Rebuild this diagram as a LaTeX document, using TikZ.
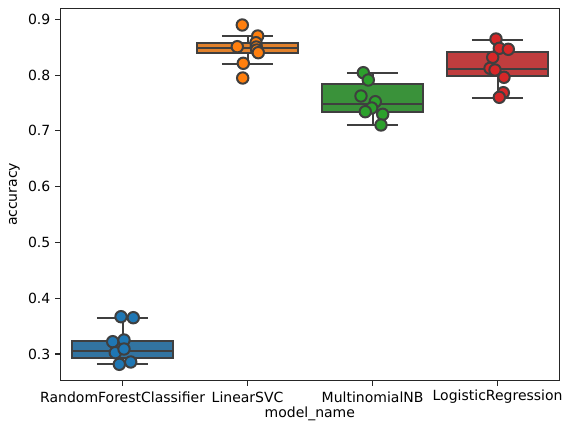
\documentclass[tikz,border=0pt]{standalone}
\usepackage{fontspec}
\setmainfont{DejaVu Sans}
\definecolor{edge}{HTML}{3F3F3F}
\definecolor{bA}{HTML}{3274A1}\definecolor{pA}{HTML}{1F77B4}
\definecolor{bB}{HTML}{E1812C}\definecolor{pB}{HTML}{FF7F0E}
\definecolor{bC}{HTML}{3A923A}\definecolor{pC}{HTML}{2CA02C}
\definecolor{bD}{HTML}{C03D3E}\definecolor{pD}{HTML}{D62728}
\begin{document}
\begin{tikzpicture}[x=1pt,y=1pt,
  lbl/.style={font=\fontsize{14}{16}\selectfont, inner sep=0pt, text=black},
  bxline/.style={draw=edge, line width=2pt},
  dot/.style={draw=edge, line width=2pt}]
\useasboundingbox (0,0) rectangle (564,424);
% boxplot macro: center, Q1, median, Q3, lowwhisk, highwhisk, fill
\newcommand{\mybox}[7]{%
  \draw[bxline] (#1,#5) -- (#1,#2) (#1,#4) -- (#1,#6);
  \draw[bxline] (#1-25.8,#5) -- (#1+25.8,#5) (#1-25.8,#6) -- (#1+25.8,#6);
  \filldraw[bxline, fill=#7] (#1-50.5,#2) rectangle (#1+50.5,#4);
  \draw[bxline] (#1-50.5,#3) -- (#1+50.5,#3);}
\newcommand{\pts}[2]{\foreach \p in {#2} {\filldraw[dot, fill=#1] \p circle (5.7);}}
% axes frame
\draw[black!85, line width=1.1pt] (60.3,43.5) rectangle (559.3,415.7);
% y ticks
\foreach \v/\yy in {0.3/70, 0.4/125.78, 0.5/181.56, 0.6/237.34, 0.7/293.12, 0.8/348.9, 0.9/404.68} {
  \draw[black!85, line width=1.1pt] (60.3,\yy) -- (55.3,\yy);
  \node[lbl, anchor=east] (yt\v) at (50.5,\yy) {\v};
}
% x ticks
\foreach \xx in {122.6,247.6,372.6,497.6} {\draw[black!85, line width=1.1pt] (\xx,43.5) -- (\xx,38.5);}
\node[lbl] (xa) at (122.6,27) {RandomForestClassifier};
\node[lbl] (xb) at (247.6,27) {LinearSVC};
\node[lbl] (xc) at (372.6,27) {MultinomialNB};
\node[lbl] (xd) at (497.6,27) {LogisticRegression};
\node[lbl] (xlab) at (309.8,10) {model\_name};
\node[lbl, rotate=90] (ylab) at (14.5,229.6) {accuracy};
% boxes
\mybox{122.6}{65.7}{73.3}{83}{60}{106.3}{bA}
\mybox{247.6}{371.3}{375.8}{380.5}{360}{388}{bB}
\mybox{372.6}{311.7}{319.7}{340}{298.7}{350.7}{bC}
\mybox{497.6}{348}{354.7}{372.3}{326.3}{384}{bD}
% points
\pts{pA}{(121,107.3),(133.3,106.3),(112.7,82.3),(124,84),(115.3,71.3),(124,75),(119.3,59.7),(130.7,62)}
\pts{pB}{(242.3,399),(257.7,388),(237.3,377.3),(256,381.3),(256.3,377),(256.7,374),(258.3,371.3),(243.3,360.7),(242.7,346)}
\pts{pC}{(363.3,351.3),(368.3,344),(361,328),(375.3,322.3),(371.7,316),(365.3,312.3),(382.7,309.7),(381,299)}
\pts{pD}{(496,385),(499.3,375.7),(508.3,374.7),(492.7,366.7),(490,355.7),(495,354),(504,346.7),(503.3,331.3),(499.3,326.7)}
\end{tikzpicture}
\end{document}
